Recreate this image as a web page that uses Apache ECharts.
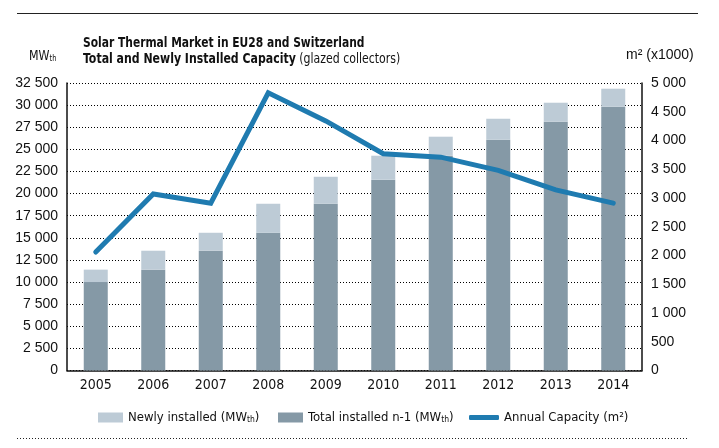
<!DOCTYPE html>
<html>
<head>
<meta charset="utf-8">
<script src="https://cdn.jsdelivr.net/npm/echarts@6/dist/echarts.min.js"></script>
<style>html,body{margin:0;padding:0;background:#fff;}#c{width:719px;height:448px;}</style>
</head>
<body>
<div id="c"></div>
<script>
var years = ['2005','2006','2007','2008','2009','2010','2011','2012','2013','2014'];
var totalPrev = [10000, 11390, 13540, 15570, 18850, 21570, 24280, 26090, 28120, 29820];
var newlyInstalled = [1400, 2150, 2030, 3280, 3050, 2710, 2150, 2370, 2150, 2035];
var annualCapacity = [2060, 3070, 2910, 4830, 4340, 3770, 3710, 3480, 3140, 2910];
var leftTicks = [0, 2500, 32500];
var rightTicks = [0, 500, 5000];

var NARROW = "'Liberation Sans Narrow', 'DejaVu Sans Condensed', 'Liberation Sans', sans-serif";
var NORMAL = "'Liberation Sans', Arial, sans-serif";
var subStyle = {fontSize: 8.5, fontFamily: NARROW, color: '#111', padding: [5, 0, 0, 0]};

function fmtNum(v) {
  return String(v).replace(/\B(?=(\d{3})+(?!\d))/g, ' ');
}

var chart = echarts.init(document.getElementById('c'));
var legendText = {fontSize: 13, fontFamily: NARROW, color: '#111', rich: {sub: subStyle}};
chart.setOption({
  animation: false,
  grid: {left: 67, right: 77, top: 83, height: 287.5, containLabel: false},
  xAxis: {
    type: 'category', data: years,
    axisLine: {show: true, lineStyle: {color: '#111', width: 1.5}},
    axisTick: {show: false},
    axisLabel: {fontSize: 14, fontFamily: NARROW, color: '#111', margin: 8}
  },
  yAxis: [{
    type: 'value', min: leftTicks[0], max: leftTicks[2], interval: leftTicks[1],
    axisLine: {show: true, lineStyle: {color: '#111', width: 1.5}},
    axisTick: {show: false},
    axisLabel: {fontSize: 14, fontFamily: NORMAL, color: '#111', margin: 9, formatter: fmtNum},
    splitLine: {show: true, lineStyle: {color: '#000', type: [1, 2], width: 1}}
  }, {
    type: 'value', min: rightTicks[0], max: rightTicks[2], interval: rightTicks[1],
    position: 'right',
    axisLine: {show: true, lineStyle: {color: '#111', width: 1.5}},
    axisTick: {show: false},
    axisLabel: {fontSize: 14, fontFamily: NORMAL, color: '#111', margin: 9, formatter: fmtNum},
    splitLine: {show: false}
  }],
  legend: [{
    left: 93, top: 406, itemWidth: 25, itemHeight: 10,
    data: [{name: 'Newly installed', icon: 'rect'}],
    formatter: function () { return 'Newly installed (MW{sub|th})'; },
    textStyle: legendText
  }, {
    left: 273, top: 406, itemWidth: 25, itemHeight: 10,
    data: [{name: 'Total installed n-1', icon: 'rect'}],
    formatter: function () { return 'Total installed n-1 (MW{sub|th})'; },
    textStyle: legendText
  }, {
    left: 464, top: 406, itemWidth: 30, itemHeight: 5,
    data: [{name: 'Annual Capacity', icon: 'roundRect'}],
    formatter: function () { return 'Annual Capacity (m²)'; },
    textStyle: legendText
  }],
  graphic: [
    {type: 'line', shape: {x1: 17, y1: 13.5, x2: 698, y2: 13.5}, style: {stroke: '#222', lineWidth: 1.2}},
    {type: 'line', shape: {x1: 17, y1: 438.5, x2: 688, y2: 438.5}, style: {stroke: '#222', lineWidth: 1, lineDash: [1, 2]}},
    {type: 'text', x: 83, y: 36, scaleX: 0.85, style: {text: 'Solar Thermal Market in EU28 and Switzerland', font: 'bold 14px ' + NARROW, fill: '#111'}},
    {type: 'text', x: 83, y: 52, scaleX: 0.87, style: {
      text: '{b|Total and Newly Installed Capacity} (glazed collectors)',
      font: '14px ' + NARROW, fill: '#111',
      rich: {b: {fontWeight: 'bold', fontSize: 14, fontFamily: NARROW, color: '#111'}}
    }},
    {type: 'text', x: 29, y: 49, scaleX: 0.88, style: {
      text: 'MW{sub|th}', font: '14px ' + NARROW, fill: '#111',
      rich: {sub: subStyle}
    }},
    {type: 'text', x: 626, y: 48, style: {text: 'm² (x1000)', font: '14px ' + NORMAL, fill: '#111'}}
  ],
  series: [{
    name: 'Total installed n-1', type: 'bar', stack: 'cap', yAxisIndex: 0,
    data: totalPrev, barWidth: 24,
    itemStyle: {color: '#8599a6'}
  }, {
    name: 'Newly installed', type: 'bar', stack: 'cap', yAxisIndex: 0,
    data: newlyInstalled, barWidth: 24,
    itemStyle: {color: '#bdcbd6'}
  }, {
    name: 'Annual Capacity', type: 'line', yAxisIndex: 1, z: 5,
    data: annualCapacity, showSymbol: false, symbol: 'none',
    lineStyle: {color: '#1f7bb0', width: 5, cap: 'round', join: 'miter'},
    itemStyle: {color: '#1f7bb0'}
  }]
});
</script>
</body>
</html>
